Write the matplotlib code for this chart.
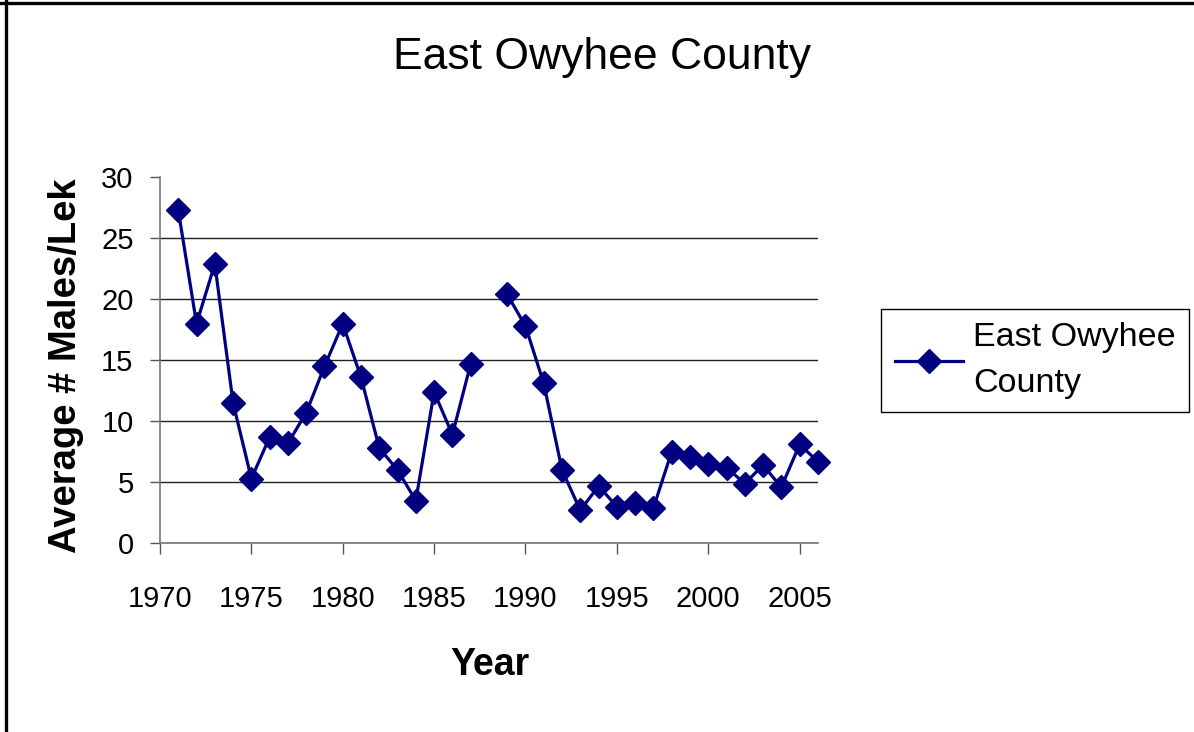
import numpy as np
import matplotlib

matplotlib.use("Agg")
import matplotlib.pyplot as plt
from matplotlib.lines import Line2D


# Average count of males per lek, East Owyhee County (no survey in 1988)
YEARS = list(range(1971, 2007))
MALES_PER_LEK = [
    27.3, 18.0, 22.9, 11.5, 5.3, 8.7, 8.2, 10.7, 14.5, 18.0,
    13.6, 7.8, 6.0, 3.5, 12.4, 8.9, 14.7, np.nan, 20.4, 17.8,
    13.1, 6.0, 2.7, 4.7, 3.0, 3.3, 2.9, 7.5, 7.1, 6.5,
    6.2, 4.9, 6.4, 4.6, 8.1, 6.7,
]
X_TICKS = list(range(1970, 2006, 5))
Y_TICKS = list(range(0, 31, 5))

TITLE = "East Owyhee County"
SERIES_LABEL = "East Owyhee\nCounty"
NAVY = "#000080"
FONT = "Liberation Sans"


def main() -> None:
    plt.rcParams["font.family"] = [FONT, "DejaVu Sans"]
    fig = plt.figure(figsize=(11.94, 7.32), dpi=100)
    ax = fig.add_axes([0.134, 0.2578, 0.551, 0.50])

    line, = ax.plot(
        YEARS, MALES_PER_LEK,
        color=NAVY, linewidth=2.3,
        marker="D", markersize=12, markerfacecolor=NAVY, markeredgecolor=NAVY,
        clip_on=False, zorder=3,
    )

    ax.set_xlim(1970, 2006)
    ax.set_ylim(0, 30)
    ax.set_xticks(X_TICKS)
    ax.set_yticks(Y_TICKS)
    ax.tick_params(axis="x", labelsize=21, length=8, width=1, color="#555555",
                   direction="out", pad=22)
    ax.tick_params(axis="y", labelsize=21, length=7, width=1, color="#555555",
                   direction="out", pad=12)

    ax.grid(axis="y", color="#222222", linewidth=1.0)
    ax.yaxis.get_gridlines()[-1].set_visible(False)
    ax.set_axisbelow(True)
    for side in ("top", "right"):
        ax.spines[side].set_visible(False)
    ax.spines["left"].set_color("#777777")
    ax.spines["bottom"].set_color("#777777")
    ax.spines["left"].set_linewidth(1.2)
    ax.spines["bottom"].set_linewidth(1.2)

    fig.text(0.5045, 0.922, TITLE, ha="center", va="center", fontsize=32)
    fig.text(0.0553, 0.5007, "Average # Males/Lek", rotation=90,
             ha="center", va="center", fontsize=27.5, fontweight="bold")
    fig.text(0.410, 0.0915, "Year", ha="center", va="center",
             fontsize=27, fontweight="bold")

    legend = fig.legend(
        [line], [SERIES_LABEL],
        loc="center", bbox_to_anchor=(0.8668, 0.5075),
        fontsize=24.5, handlelength=2.0, handletextpad=0.3,
        borderpad=0.4, labelspacing=0.3,
        fancybox=False, framealpha=1, edgecolor="black",
    )
    legend.get_frame().set_linewidth(1.0)
    for text in legend.get_texts():
        text.set_linespacing(1.6)

    # outer chart frame, only the top and left edges show
    fig.add_artist(Line2D([0.0, 1.0], [0.9959, 0.9959], transform=fig.transFigure,
                          color="black", linewidth=2.4))
    fig.add_artist(Line2D([0.0052, 0.0052], [0.0, 0.998], transform=fig.transFigure,
                          color="black", linewidth=2.4))

    fig.savefig("out.png", dpi=100)
    plt.close(fig)


if __name__ == "__main__":
    main()
